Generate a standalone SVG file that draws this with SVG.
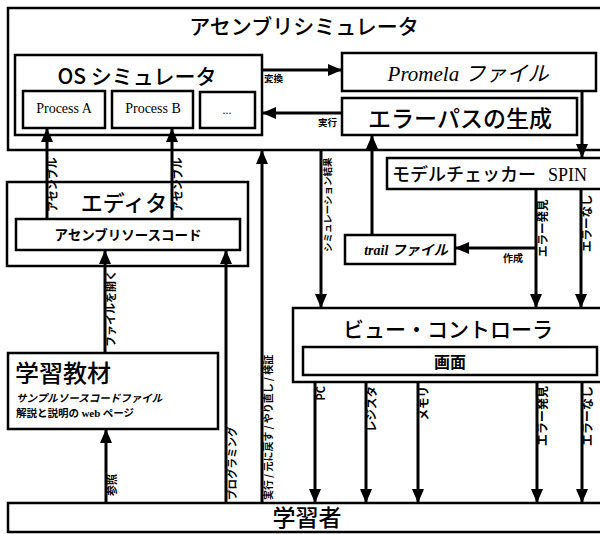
<svg xmlns="http://www.w3.org/2000/svg" width="600" height="534" viewBox="0 0 600 534">
<style>
.box{fill:#fff;stroke:#000;stroke-width:2.5}
.ibox{fill:#fff;stroke:#000;stroke-width:2.5}
.ln{fill:none;stroke:#000;stroke-width:3}
.t{font-family:"Noto Sans CJK JP","Noto Sans",sans-serif;fill:#000}
.big{font-size:21px;font-weight:500}
.ser{font-family:"Liberation Serif","Noto Sans CJK JP",serif;fill:#000}
.lbl{font-family:"Noto Sans CJK JP",sans-serif;font-weight:bold;fill:#000}
</style>
<defs>
<marker id="ah" markerUnits="userSpaceOnUse" markerWidth="15" markerHeight="12" refX="14" refY="6" orient="auto">
<path d="M0,0 L14,6 L0,12 z" fill="#000"/>
</marker>
</defs>
<rect width="600" height="534" fill="#fff"/>

<g id="asm-sim">
<rect class="box" x="8" y="8" width="610" height="142" stroke-width="3"/>
<text class="t big" x="304" y="34" text-anchor="middle">アセンブリシミュレータ</text>
</g>
<g id="os-sim">
<rect class="box" x="15" y="55" width="247" height="80"/>
<text class="t big" x="137" y="84" font-size="20" text-anchor="middle">OS シミュレータ</text>
</g>
<g id="proc-a">
<rect class="ibox" x="23" y="91" width="82" height="37"/>
<text class="ser" x="64" y="113" font-size="14" text-anchor="middle">Process A</text>
</g>
<g id="proc-b">
<rect class="ibox" x="112" y="91" width="81" height="37"/>
<text class="ser" x="153" y="113" font-size="14" text-anchor="middle">Process B</text>
</g>
<g id="proc-more">
<rect class="ibox" x="200" y="92" width="55" height="36"/>
<text class="ser" x="227" y="114" font-size="12" text-anchor="middle">...</text>
</g>
<g id="promela">
<rect class="box" x="342" y="53" width="254" height="38"/>
<text class="ser" x="468" y="81" font-size="21" font-style="italic" text-anchor="middle">Promela <tspan class="t" font-family="Noto Sans CJK JP,sans-serif">ファイル</tspan></text>
</g>
<g id="errpath">
<rect class="box" x="342" y="98" width="235" height="37"/>
<text class="t" x="460" y="127" font-size="23" font-weight="500" text-anchor="middle">エラーパスの生成</text>
</g>
<g id="spin">
<rect class="box" x="387" y="158" width="230" height="31"/>
<text class="t" x="392" y="181" font-size="18" font-weight="500">モデルチェッカー<tspan class="ser" x="548" font-size="18">SPIN</tspan></text>
</g>
<g id="trail">
<rect class="box" x="345" y="235" width="110" height="29"/>
<text class="ser" x="406" y="255" font-size="14" font-style="italic" font-weight="bold" text-anchor="middle">trail <tspan font-family="Noto Sans CJK JP,sans-serif">ファイル</tspan></text>
</g>
<g id="editor">
<rect class="box" x="7" y="182" width="241" height="84"/>
<text class="t" x="124" y="211" font-size="22" font-weight="500" text-anchor="middle">エディタ</text>
</g>
<g id="asm-src">
<rect class="ibox" x="16" y="219" width="224" height="31"/>
<text class="t" x="128" y="240" font-size="13.5" font-weight="bold" text-anchor="middle">アセンブリソースコード</text>
</g>
<g id="material">
<rect class="box" x="8" y="353" width="210" height="76"/>
<text class="t" x="15" y="382" font-size="24" font-weight="500">学習教材</text>
<text class="t" x="16" y="402" font-size="10.5" font-weight="bold" font-style="italic">サンプルソースコードファイル</text>
<text class="t" x="16" y="417" font-size="10.5" font-weight="bold">解説と説明の <tspan class="ser" font-size="11">web</tspan> ページ</text>
</g>
<g id="viewctl">
<rect class="box" x="293" y="308" width="320" height="74"/>
<text class="t" x="448" y="337" font-size="21" font-weight="500" text-anchor="middle">ビュー・コントローラ</text>
</g>
<g id="screen">
<rect class="ibox" x="303" y="347" width="294" height="28"/>
<text class="t" x="450" y="368" font-size="16" font-weight="bold" text-anchor="middle">画面</text>
</g>
<g id="learner">
<rect class="box" x="8" y="503" width="610" height="29"/>
<text class="t" x="307" y="526" font-size="23" font-weight="500" text-anchor="middle">学習者</text>
</g>

<g id="connectors">
<path class="ln" d="M262,70 H342" marker-end="url(#ah)"/>
<path class="ln" d="M342,113 H262" marker-end="url(#ah)"/>
<path class="ln" d="M582,91 V158" marker-end="url(#ah)"/>
<path class="ln" d="M372,235 V135" marker-end="url(#ah)"/>
<path class="ln" d="M536,248 H455" marker-end="url(#ah)"/>
<path class="ln" d="M536,189 V308" marker-end="url(#ah)"/>
<path class="ln" d="M581,189 V308" marker-end="url(#ah)"/>
<path class="ln" d="M321,150 V308" marker-end="url(#ah)"/>
<path class="ln" d="M47,219 V128" marker-end="url(#ah)"/>
<path class="ln" d="M172,219 V128" marker-end="url(#ah)"/>
<path class="ln" d="M105,353 V250" marker-end="url(#ah)"/>
<path class="ln" d="M226,503 V250" marker-end="url(#ah)"/>
<path class="ln" d="M262,503 V150" marker-end="url(#ah)"/>
<path class="ln" d="M106,503 V429" marker-end="url(#ah)"/>
<path class="ln" d="M315,382 V503" marker-end="url(#ah)"/>
<path class="ln" d="M366,382 V503" marker-end="url(#ah)"/>
<path class="ln" d="M418,382 V503" marker-end="url(#ah)"/>
<path class="ln" d="M537,382 V503" marker-end="url(#ah)"/>
<path class="ln" d="M582,382 V503" marker-end="url(#ah)"/>

<text class="lbl" x="264" y="82" font-size="9.5">変換</text>
<text class="lbl" x="318" y="126" font-size="9.5">実行</text>
<text class="lbl" x="503" y="262" font-size="10">作成</text>

<text class="lbl" font-size="11" transform="translate(57,212) rotate(-90)">アセンブル</text>
<text class="lbl" font-size="11" transform="translate(182,212) rotate(-90)">アセンブル</text>
<text class="lbl" font-size="11" transform="translate(115,347) rotate(-90)">ファイルを開く</text>
<text class="lbl" font-size="11" transform="translate(116,496) rotate(-90)">参照</text>
<text class="lbl" font-size="10.5" transform="translate(236,500) rotate(-90)">プログラミング</text>
<text class="lbl" font-size="10" transform="translate(272,500) rotate(-90)">実行 / 元に戻す / やり直し / 検証</text>
<text class="lbl" font-size="9.5" transform="translate(331,252) rotate(-90)">シミュレーション結果</text>
<text class="lbl" font-size="11.5" transform="translate(547,257) rotate(-90)">エラー発見</text>
<text class="lbl" font-size="11.5" transform="translate(591,252) rotate(-90)">エラーなし</text>
<text class="lbl" font-size="11" text-anchor="end" transform="translate(325,386) rotate(-90)">PC</text>
<text class="lbl" font-size="11.5" text-anchor="end" transform="translate(376,386) rotate(-90)">レジスタ</text>
<text class="lbl" font-size="11.5" text-anchor="end" transform="translate(428,386) rotate(-90)">メモリ</text>
<text class="lbl" font-size="12" text-anchor="end" transform="translate(547,386) rotate(-90)">エラー発見</text>
<text class="lbl" font-size="12" text-anchor="end" transform="translate(592,386) rotate(-90)">エラーなし</text>
</g>
</svg>
